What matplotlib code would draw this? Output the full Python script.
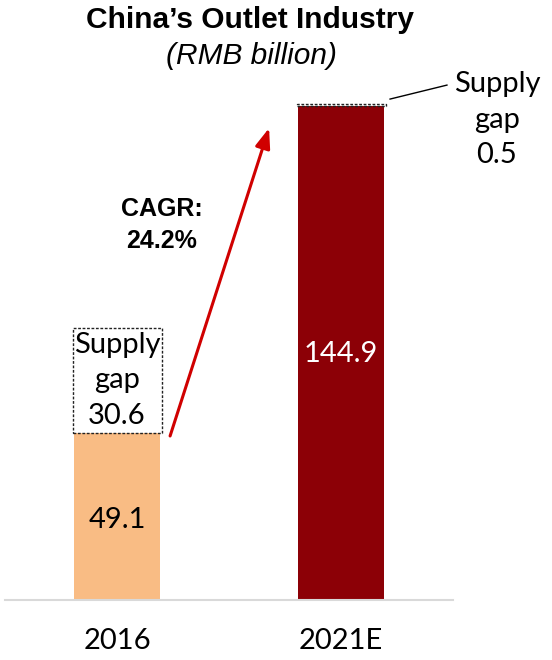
import matplotlib.pyplot as plt
from matplotlib.patches import Rectangle

# -------------------------
# Data (RMB billion)
# -------------------------
years = ["2016", "2021E"]
market = [49.1, 144.9]
supply_gap = [30.6, 0.5]
cagr_label = "CAGR:\n24.2%"

BAR_COLORS = ["#F9BC84", "#8C0006"]
ARROW_RED = "#D00000"
LABEL_FONT = "Lato"
LABEL_SIZE = 21

fig = plt.figure(figsize=(5.52, 6.6), dpi=100)
ax = fig.add_axes([5 / 552, 60 / 660, 448 / 552, 545.6 / 660])

x = list(range(len(years)))
width = 0.384
ax.bar(x, market, width=width, color=BAR_COLORS, edgecolor="none", zorder=2)

# dashed boxes for the supply gap
for i in x:
    w = width + 0.015
    ax.add_patch(Rectangle((i - w / 2 + 0.003, market[i]), w, supply_gap[i],
                           fill=False, edgecolor="#222222", linestyle=(0, (2, 1.2)),
                           linewidth=1.0, zorder=3))

ax.set_xlim(-0.5, 1.5)
ax.set_ylim(0, 160)
for s in ["top", "right", "left"]:
    ax.spines[s].set_visible(False)
ax.spines["bottom"].set_color("#D9D9D9")
ax.spines["bottom"].set_linewidth(1.5)
ax.set_yticks([])
ax.set_xticks(x)
ax.set_xticklabels(years, fontsize=LABEL_SIZE, family=LABEL_FONT)
ax.tick_params(axis="x", length=0, pad=20)

# value labels inside bars
ax.text(x[0], market[0] / 2 - 1, f"{market[0]:.1f}", ha="center", va="center",
        fontsize=LABEL_SIZE, family=LABEL_FONT, color="black", zorder=4)
ax.text(x[1], market[1] / 2 - 0.4, f"{market[1]:.1f}", ha="center", va="center",
        fontsize=LABEL_SIZE, family=LABEL_FONT, color="white", zorder=4)

# supply gap label for 2016 (inside the dashed box)
ax.text(x[0], market[0] + supply_gap[0] / 2, f"Supply\ngap\n{supply_gap[0]:.1f}",
        ha="center", va="center", fontsize=LABEL_SIZE, family=LABEL_FONT,
        linespacing=1.45, zorder=4)

# supply gap label for 2021E (outside, with leader line)
top21 = market[1] + supply_gap[1]
ax.plot([x[1] + 0.219, x[1] + 0.473], [top21 + 1.5, top21 + 5.6], color="black",
        linewidth=1.0, clip_on=False)
ax.text(x[1] + 0.696, top21 - 4.6, f"Supply\ngap\n{supply_gap[1]:.1f}",
        ha="center", va="center", fontsize=LABEL_SIZE, family=LABEL_FONT,
        linespacing=1.45, clip_on=False)

# CAGR arrow
ax.annotate("", xy=(x[0] + 0.679, top21 - 7), xytext=(x[0] + 0.237, market[0] - 1),
            arrowprops=dict(arrowstyle="-|>,head_length=1.2,head_width=0.45",
                            color=ARROW_RED, linewidth=2.2, shrinkA=0, shrinkB=0),
            zorder=5)
ax.text(x[0] + 0.2, 110.0, cagr_label, ha="center", va="center", fontsize=18,
        fontweight="bold", family="Liberation Sans", linespacing=1.38)

# titles
fig.text(250 / 552, 1 - 20 / 660, "China’s Outlet Industry", ha="center", va="center",
         fontsize=21.5, fontweight="bold", family="Liberation Sans")
fig.text(252 / 552, 1 - 56 / 660, "(RMB billion)", ha="center", va="center",
         fontsize=21.5, style="italic", family="Liberation Sans")

fig.savefig("out.png", dpi=100)
